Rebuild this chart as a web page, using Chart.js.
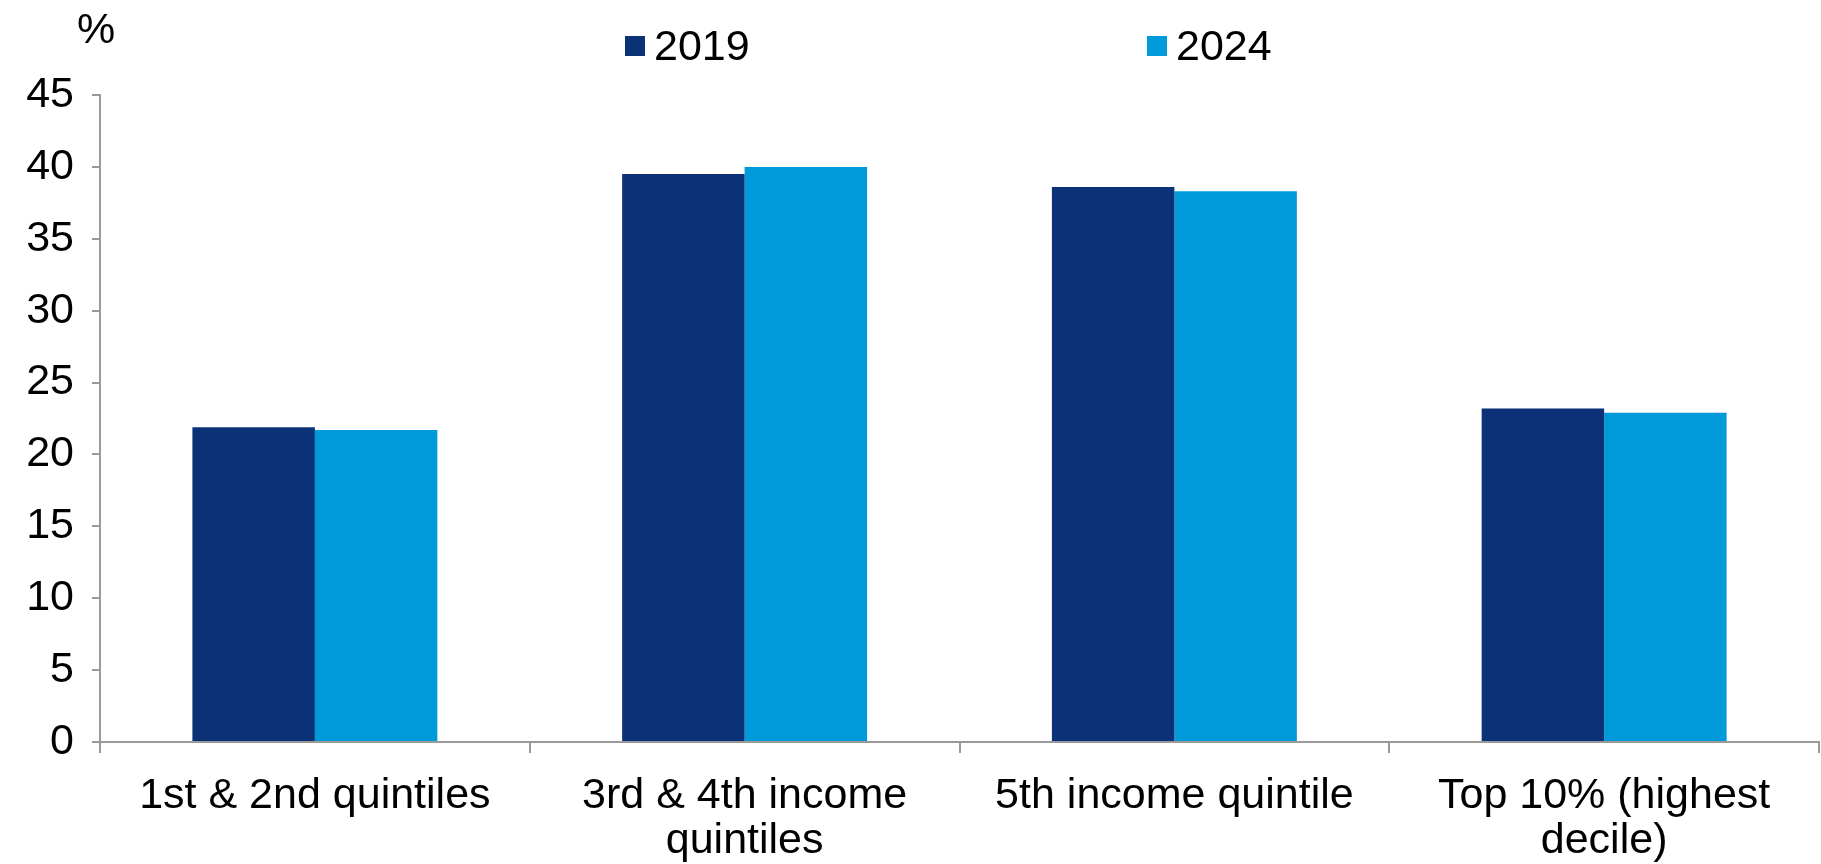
<!DOCTYPE html>
<html>
<head>
<meta charset="utf-8">
<script src="https://cdn.jsdelivr.net/npm/chart.js@4.4.1/dist/chart.umd.min.js"></script>
<style>
  html, body { margin: 0; padding: 0; background: #fff; }
  #wrap { width: 1821px; height: 864px; position: relative; }
</style>
</head>
<body>
<div id="wrap"><canvas id="myChart"></canvas></div>
<script>
"use strict";
// categories (multi-line labels) and the two survey years
const categories = [
  ["1st & 2nd quintiles"],
  ["3rd & 4th income", "quintiles"],
  ["5th income quintile"],
  ["Top 10% (highest", "decile)"],
];
const years = ["2019", "2024"];
const values2019 = [21.9, 39.5, 38.6, 23.2];
const values2024 = [21.7, 40.0, 38.3, 22.9];
const yTicks = [0, 5, 10, 15, 20, 25, 30, 35, 40, 45];

const darkBlue = "#0B3176";
const lightBlue = "#0099DA";
const axisGrey = "#9a9a9a";
const fontFamily = "'Liberation Sans', Arial, sans-serif";
const fontSize = 43;

Chart.defaults.font.family = fontFamily;
Chart.defaults.color = "#000";

// legend row and "%" unit label drawn on top of the chart
const topLabels = {
  id: "topLabels",
  afterDraw(chart) {
    const ctx = chart.ctx;
    ctx.save();
    ctx.font = `${fontSize}px ${fontFamily}`;
    ctx.fillStyle = "#000";
    ctx.textBaseline = "middle";
    ctx.textAlign = "center";
    ctx.fillText("%", 96, 31);
    // legend items, spread across the top
    const itemX = [625, 1147];
    chart.data.datasets.forEach((ds, i) => {
      ctx.fillStyle = ds.backgroundColor;
      ctx.fillRect(itemX[i], 36, 20, 20);
      ctx.fillStyle = "#000";
      ctx.textAlign = "left";
      ctx.fillText(ds.label, itemX[i] + 29, 48);
    });
    ctx.restore();
  },
};

const data = {
  labels: categories,
  datasets: [
    { label: years[0], data: values2019, backgroundColor: darkBlue },
    { label: years[1], data: values2024, backgroundColor: lightBlue },
  ],
};

const config = {
  type: "bar",
  data: data,
  options: {
    responsive: true,
    maintainAspectRatio: false,
    animation: false,
    layout: { padding: { top: 95, right: 2, left: 0, bottom: 0 } },
    datasets: {
      bar: { categoryPercentage: 0.57, barPercentage: 1.0 },
    },
    plugins: {
      legend: { display: false },
      tooltip: { enabled: false },
    },
    scales: {
      x: {
        offset: true,
        grid: {
          offset: true,
          drawOnChartArea: false,
          drawTicks: true,
          tickLength: 11,
          color: axisGrey,
          lineWidth: 2,
        },
        border: { color: axisGrey, width: 2 },
        ticks: {
          font: { size: fontSize, lineHeight: 1.04 },
          color: "#000",
          padding: 21,
          maxRotation: 0,
          autoSkip: false,
        },
        afterFit(scale) {
          scale.height = 122;
        },
      },
      y: {
        min: 0,
        max: 45,
        afterBuildTicks(scale) {
          scale.ticks = yTicks.map((v) => ({ value: v }));
        },
        grid: {
          drawOnChartArea: false,
          drawTicks: true,
          tickLength: 8,
          color: axisGrey,
          lineWidth: 2,
        },
        border: { color: axisGrey, width: 2 },
        ticks: {
          font: { size: fontSize },
          color: "#000",
          padding: 18,
        },
        afterFit(scale) {
          scale.width = 100;
        },
      },
    },
  },
  plugins: [topLabels],
};

const myChart = new Chart(document.getElementById("myChart"), config);
</script>
</body>
</html>
